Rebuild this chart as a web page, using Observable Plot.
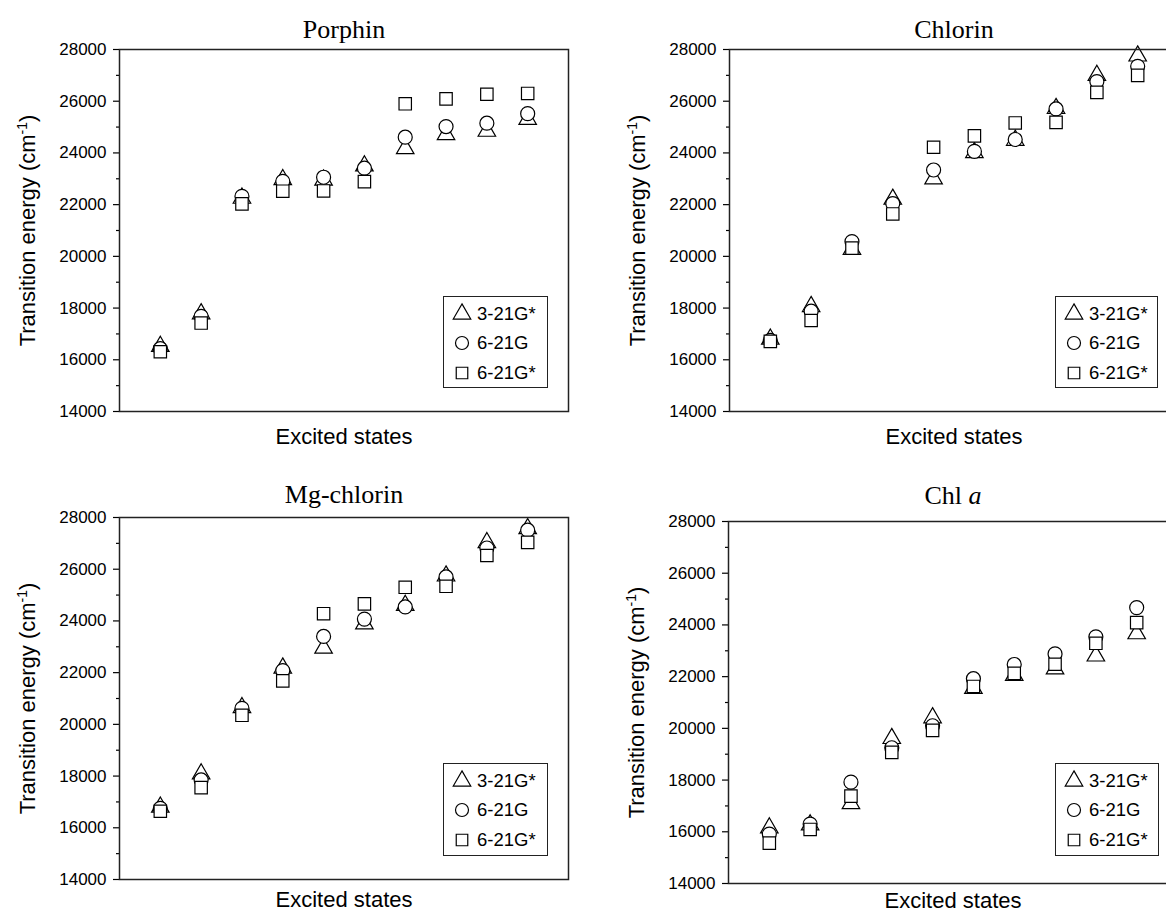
<!DOCTYPE html>
<html><head><meta charset="utf-8">
<script src="https://cdn.jsdelivr.net/npm/d3@7"></script>
<script src="https://cdn.jsdelivr.net/npm/@observablehq/plot@0.6"></script>
<style>
html,body{margin:0;padding:0;background:#fff;}
body{width:1166px;height:914px;overflow:hidden;position:relative;font-family:"Liberation Sans",Arial,sans-serif;}
.panel{position:absolute;}
.legbox{position:absolute;border:1.5px solid #222;box-sizing:border-box;background:#fff;padding:2px 0 0 10px;}
.legbox *{font-family:"Liberation Sans",Arial,sans-serif !important;font-size:18.5px !important;color:#000;}
.legbox div{margin:0 !important;}
.legbox .lg-swatch{display:flex !important;align-items:center;height:29.5px;padding:0 !important;}
.legbox svg{margin-right:7px !important;overflow:visible !important;}
</style></head><body>
<script>
// ---- data ----
const states = [1, 2, 3, 4, 5, 6, 7, 8, 9, 10];
const seriesNames = ["3-21G*", "6-21G", "6-21G*"];
const panelTitles = ["Porphin", "Chlorin", "Mg-chlorin", "Chl a"];
const yMajorTicks = [14000, 16000, 18000, 20000, 22000, 24000, 26000, 28000];
const yMinorTicks = [15000, 17000, 19000, 21000, 23000, 25000, 27000];

const porphin_321Gs = [16520, 17780, 22250, 22970, 22950, 23500, 24170, 24710, 24840, 25300];
const porphin_621G  = [16430, 17680, 22320, 22900, 23060, 23410, 24610, 25020, 25150, 25520];
const porphin_621Gs = [16310, 17420, 22030, 22520, 22530, 22890, 25900, 26090, 26270, 26300];

const chlorin_321Gs = [16800, 18060, 20270, 22210, 23000, 24010, 24490, 25720, 27000, 27750];
const chlorin_621G  = [16750, 17880, 20570, 22040, 23340, 24060, 24520, 25700, 26760, 27350];
const chlorin_621Gs = [16710, 17520, 20320, 21640, 24220, 24660, 25160, 25180, 26340, 27000];

const mgchlorin_321Gs = [16800, 18085, 20650, 22180, 22950, 23890, 24600, 25740, 27030, 27570];
const mgchlorin_621G  = [16750, 17850, 20620, 22080, 23400, 24070, 24540, 25700, 26820, 27510];
const mgchlorin_621Gs = [16640, 17555, 20350, 21680, 24280, 24660, 25300, 25340, 26530, 27040];

const chla_321Gs = [16150, 16270, 17090, 19610, 20410, 21550, 22050, 22300, 22800, 23660];
const chla_621G  = [15910, 16300, 17920, 19250, 20100, 21920, 22470, 22880, 23540, 24670];
const chla_621Gs = [15560, 16090, 17380, 19070, 19920, 21620, 22130, 22480, 23290, 24090];

// ---- layout ----
const panels = [
  {title: panelTitles[0], s: [porphin_321Gs, porphin_621G, porphin_621Gs], left: 0, top: 0, tdy: -20, xdy: 25, leg: [443, 296, 105, 92]},
  {title: panelTitles[1], s: [chlorin_321Gs, chlorin_621G, chlorin_621Gs], left: 610, top: 0, tdy: -20, xdy: 25, leg: [1055, 296, 103, 92]},
  {title: panelTitles[2], s: [mgchlorin_321Gs, mgchlorin_621G, mgchlorin_621Gs], left: 0, top: 468, tdy: -23, xdy: 20, leg: [443, 763, 105, 93]},
  {title: panelTitles[3], s: [chla_321Gs, chla_621G, chla_621Gs], left: 609, top: 472, tdy: -26, xdy: 17, leg: [1055, 763, 104, 93]}
];
const symbols = ["triangle", "circle", "square"];
const radii = [6.5, 7, 7];
const YLABEL = "Transition energy (cm-1)";

panels.forEach(p => {
  const data = states.map((st, i) => ({st, a: p.s[0][i], b: p.s[1][i], c: p.s[2][i]}));
  const keys = ["a", "b", "c"];
  const chart = Plot.plot({
    width: 578, height: 442,
    marginLeft: 119, marginTop: 49, marginRight: 10, marginBottom: 31,
    x: {domain: [0, 11], axis: null},
    y: {domain: [14000, 28000]},
    style: {fontFamily: "'Liberation Sans', Arial, sans-serif", fontSize: "17px", background: "transparent", overflow: "visible", color: "#000"},
    marks: [
      Plot.axisY({ticks: yMajorTicks, tickSize: 6, tickPadding: 7, tickFormat: d => String(d), label: null, fontSize: 17, strokeWidth: 1.2}),
      Plot.axisY({ticks: yMinorTicks, tickSize: 3, tickFormat: () => "", label: null, strokeWidth: 1.2}),
      ...keys.map((k, j) => Plot.dot(data, {x: "st", y: k, symbol: symbols[j], r: radii[j], fill: "white", stroke: "black", strokeWidth: 1.2})),
      Plot.frame({stroke: "#222", strokeWidth: 1.5}),
      Plot.text([p.title], {text: d => d, frameAnchor: "top", lineAnchor: "middle", textAnchor: "middle", dy: p.tdy, fontSize: 26, fontFamily: "'Liberation Serif', 'Times New Roman', serif"}),
      Plot.text(["Excited states"], {text: d => d, frameAnchor: "bottom", lineAnchor: "middle", textAnchor: "middle", dy: p.xdy, fontSize: 22}),
      Plot.text([YLABEL], {text: d => d, frameAnchor: "left", lineAnchor: "middle", textAnchor: "middle", rotate: -90, dx: -92, fontSize: 22})
    ]
  });
  chart.classList.add("panel");
  chart.style.left = p.left + "px";
  chart.style.top = p.top + "px";
  document.body.appendChild(chart);

  // rich text: superscript and italic
  const NS = "http://www.w3.org/2000/svg";
  chart.querySelectorAll("text").forEach(t => {
    if (t.textContent === YLABEL) {
      t.textContent = "Transition energy (cm";
      const sup = document.createElementNS(NS, "tspan");
      sup.setAttribute("font-size", "14"); sup.setAttribute("dy", "-8"); sup.textContent = "-1";
      const close = document.createElementNS(NS, "tspan");
      close.setAttribute("dy", "8"); close.textContent = ")";
      t.appendChild(sup); t.appendChild(close);
    } else if (t.textContent === "Chl a") {
      t.textContent = "Chl ";
      const it = document.createElementNS(NS, "tspan");
      it.setAttribute("font-style", "italic"); it.textContent = "a";
      t.appendChild(it);
    }
  });

  // legend
  const box = document.createElement("div");
  box.className = "legbox";
  box.style.left = p.leg[0] + "px"; box.style.top = p.leg[1] + "px";
  box.style.width = p.leg[2] + "px"; box.style.height = p.leg[3] + "px";
  const leg = Plot.legend({
    symbol: {type: "ordinal", domain: seriesNames, range: symbols},
    fill: "white", stroke: "black", strokeWidth: 1.2, r: 6.5,
    swatchSize: 16, columns: 1, className: "lg",
    style: {fontSize: "18.5px", fontFamily: "'Liberation Sans', Arial, sans-serif"}
  });
  box.appendChild(leg);
  document.body.appendChild(box);
});
</script>
</body></html>
